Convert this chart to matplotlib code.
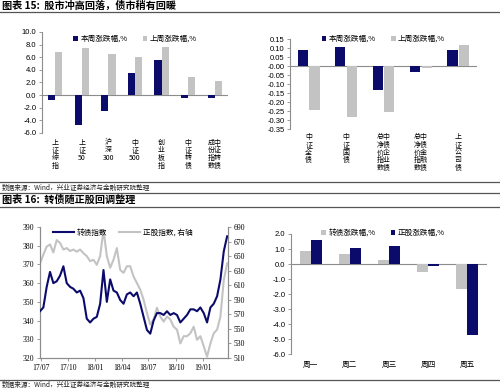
import re
import numpy as np
import pandas as pd
import matplotlib
matplotlib.use("Agg")
import matplotlib.pyplot as plt
import matplotlib.dates as mdates
from matplotlib.lines import Line2D

plt.rcParams["font.family"] = ["Noto Sans CJK SC", "DejaVu Sans"]
plt.rcParams["axes.unicode_minus"] = False

NAVY = "#0b0b6b"
GREY = "#c3c3c3"
AXC = "#8c8c8c"
NUMFONT = ["Liberation Sans", "DejaVu Sans"]

# ---------------- 数据 ----------------
stock_names = ["上证综指", "上证50", "沪深300", "中证500", "创业板指", "中证转债", "中证转债|成份指数"]
stock_this_week = [-0.8, -4.7, -2.5, 3.5, 5.5, -0.4, -0.4]
stock_last_week = [6.8, 7.5, 6.5, 6.1, 7.6, 2.9, 2.3]

bond_names = ["中证全债", "中证国债", "中债企业债|总净价指数", "中债金融债|总净价指数", "上证公司债"]
bond_this_week = [0.09, 0.105, -0.135, -0.035, 0.09]
bond_last_week = [-0.245, -0.285, -0.255, -0.01, 0.115]

days = ["周一", "周二", "周三", "周四", "周五"]
cb_daily = [0.9, 0.7, 0.3, -0.55, -1.65]
stk_daily = [1.6, 1.05, 1.2, -0.1, -4.7]

cb_index = [345, 347, 358, 366, 360, 361, 364, 369, 360, 358, 357, 355, 356, 352, 341,
            339, 341, 342, 349, 367, 350, 362, 356, 355, 351, 349, 354, 355, 353, 355,
            349, 342, 335, 333, 340, 344, 344, 343, 345, 343, 344, 343, 339, 341, 343,
            346, 346, 345, 347, 344, 339, 347, 349, 353, 362, 377, 385]
stk_index = [640, 652, 663, 666, 655, 672, 668, 659, 661, 657, 659, 656, 659, 654, 650,
             643, 645, 638, 650, 686, 650, 634, 645, 661, 631, 627, 636, 636, 622, 613,
             604, 590, 572, 556, 563, 579, 567, 560, 567, 563, 553, 549, 530, 540, 540,
             544, 553, 535, 540, 526, 512, 530, 544, 549, 567, 617, 640]
dates = pd.date_range("2017-06-28", "2019-03-25", periods=len(cb_index))


def vlabel(s):
    # 竖排标签，数字连在一起；两列时右列在前
    if "|" in s:
        a, b = s.split("|")
        n = max(len(a), len(b))
        a, b = a.ljust(n, "　"), b.ljust(n, "　")
        return "\n".join(b[i] + a[i] for i in range(n))
    return "\n".join(re.findall(r"\d+|.", s))


def bar_axes(ax):
    for sp in ["top", "right", "bottom"]:
        ax.spines[sp].set_visible(False)
    ax.spines["left"].set_color(AXC)
    ax.spines["left"].set_linewidth(0.8)
    ax.tick_params(axis="y", length=2.5, width=0.6, color=AXC, labelsize=5.5, pad=1.5)
    ax.tick_params(axis="x", length=0, labelsize=5, pad=4)
    for t in ax.get_yticklabels():
        t.set_family(NUMFONT)
    ax.axhline(0, color=AXC, lw=0.8, zorder=1)


fig = plt.figure(figsize=(5, 3.9), dpi=100)

# 标题与分隔线
fig.text(0.004, 0.984, "图表 15:  股市冲高回落，债市稍有回暖", fontsize=7.3, weight="bold", va="center")
fig.text(0.004, 0.487, "图表 16:  转债随正股回调整理", fontsize=7.3, weight="bold", va="center")
fig.text(0.004, 0.518, "数据来源：Wind，兴业证券经济与金融研究院整理", fontsize=4.8, va="center", color="#222222")
fig.text(0.004, 0.013, "数据来源：Wind，兴业证券经济与金融研究院整理", fontsize=4.8, va="center", color="#222222")
for yy in [0.968, 0.534, 0.505, 0.470, 0.026]:
    fig.add_artist(Line2D([0, 1], [yy, yy], color="#555555", lw=0.9))

# ---- 图1：股市 ----
ax1 = fig.add_axes([0.084, 0.659, 0.372, 0.259])
x = np.arange(len(stock_names))
ax1.bar(x - 0.135, stock_this_week, 0.27, color=NAVY, label="本周涨跌幅,%", zorder=2)
ax1.bar(x + 0.135, stock_last_week, 0.27, color=GREY, label="上周涨跌幅,%", zorder=2)
ax1.set_xlim(-0.5, len(stock_names) - 0.5)
ax1.set_ylim(-6, 10)
ax1.set_yticks(np.arange(-6, 10.1, 2))
ax1.set_yticklabels([f"{v:.1f}" for v in np.arange(-6, 10.1, 2)])
ax1.set_xticks(x)
ax1.set_xticklabels([vlabel(s) for s in stock_names], va="top", linespacing=0.95)
bar_axes(ax1)
ax1.legend(loc="upper center", bbox_to_anchor=(0.5, 1.04), ncol=2, frameon=False, fontsize=5.5,
           handlelength=0.6, handleheight=0.6, handletextpad=0.3, columnspacing=2.0)

# ---- 图2：债市 ----
ax2 = fig.add_axes([0.58, 0.669, 0.374, 0.231])
x = np.arange(len(bond_names))
ax2.bar(x - 0.155, bond_this_week, 0.27, color=NAVY, label="本周涨跌幅,%", zorder=2)
ax2.bar(x + 0.155, bond_last_week, 0.27, color=GREY, label="上周涨跌幅,%", zorder=2)
ax2.set_xlim(-0.5, len(bond_names) - 0.5)
ax2.set_ylim(-0.35, 0.15)
yt = np.arange(-0.35, 0.151, 0.05)
ax2.set_yticks(yt)
ax2.set_yticklabels([f"{v:.2f}" for v in yt])
ax2.set_xticks(x)
ax2.set_xticklabels([vlabel(s) for s in bond_names], va="top", linespacing=0.95)
bar_axes(ax2)
ax2.tick_params(axis="x", pad=3)
ax2.legend(loc="upper center", bbox_to_anchor=(0.5, 1.12), ncol=2, frameon=False, fontsize=5.5,
           handlelength=0.6, handleheight=0.6, handletextpad=0.3, columnspacing=2.0)

# ---- 图3：转债指数与正股指数 ----
ax3 = fig.add_axes([0.08, 0.082, 0.376, 0.336])
ax4 = ax3.twinx()
ln1, = ax3.plot(dates, cb_index, color=NAVY, lw=1.5, label="转债指数", zorder=3)
ln2, = ax4.plot(dates, stk_index, color=GREY, lw=1.5, label="正股指数, 右轴", zorder=2)
ax3.set_zorder(ax4.get_zorder() + 1)
ax3.patch.set_visible(False)
ax3.set_ylim(320, 390)
ax4.set_ylim(510, 690)
ax3.set_yticks(np.arange(320, 391, 10))
ax4.set_yticks(np.arange(510, 691, 20))
ax3.set_xlim(pd.Timestamp("2017-06-28"), pd.Timestamp("2019-03-28"))
ax3.xaxis.set_major_locator(mdates.MonthLocator(bymonth=[1, 4, 7, 10]))
ax3.xaxis.set_major_formatter(mdates.DateFormatter("%y/%m"))
for a in (ax3, ax4):
    a.spines["top"].set_visible(False)
    for sp in ["left", "right", "bottom"]:
        a.spines[sp].set_color(AXC)
        a.spines[sp].set_linewidth(0.8)
    a.tick_params(length=2.5, width=0.6, color=AXC, labelsize=5.5, pad=1.5)
    for t in a.get_yticklabels() + a.get_xticklabels():
        t.set_family(["Liberation Serif", "DejaVu Serif"])
ax3.legend(handles=[ln1, ln2], loc="upper left", bbox_to_anchor=(0.03, 1.04), ncol=2, frameon=False,
           fontsize=5.5, handlelength=2.8, handletextpad=0.4, columnspacing=1.5)

# ---- 图4：每日涨跌幅 ----
ax5 = fig.add_axes([0.582, 0.092, 0.392, 0.308])
x = np.arange(len(days))
ax5.bar(x - 0.14, cb_daily, 0.28, color=GREY, label="转债涨跌幅,%", zorder=2)
ax5.bar(x + 0.14, stk_daily, 0.28, color=NAVY, label="正股涨跌幅,%", zorder=2)
ax5.set_xlim(-0.5, len(days) - 0.5)
ax5.set_ylim(-6, 2)
ax5.set_yticks(np.arange(-6, 2.1, 1))
ax5.set_yticklabels([f"{v:.1f}" for v in np.arange(-6, 2.1, 1)])
ax5.set_xticks(x)
ax5.set_xticklabels(days)
bar_axes(ax5)
ax5.tick_params(axis="x", labelsize=5.5, pad=5)
ax5.legend(loc="upper center", bbox_to_anchor=(0.47, 1.1), ncol=2, frameon=False, fontsize=5.5,
           handlelength=0.6, handleheight=0.6, handletextpad=0.3, columnspacing=2.0)

fig.savefig("out.png", dpi=100)
